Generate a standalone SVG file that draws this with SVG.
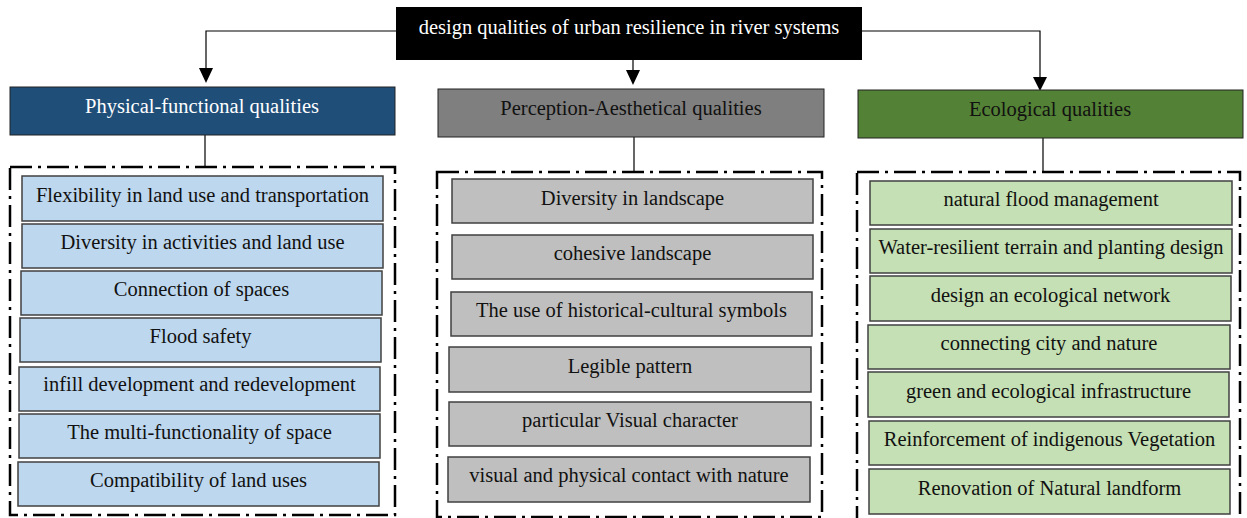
<svg xmlns="http://www.w3.org/2000/svg" width="1247" height="518" viewBox="0 0 1247 518">
<defs>
<style>
text{font-family:"Liberation Serif","Times New Roman",serif;font-size:20.5px;text-anchor:middle;fill:#111}
.cat{stroke:#222;stroke-width:1}
.box{stroke:#404040;stroke-width:1.5}
.pf .box{fill:#BDD7EE}
.pa .box{fill:#BFBFBF}
.ec .box{fill:#C5E0B4}
.frame{fill:none;stroke:#000;stroke-width:2.5;stroke-dasharray:22 6 3 6}
.conn{fill:none;stroke:#000;stroke-width:1.2}
.head{fill:#000}
</style>
</defs>
<rect width="1247" height="518" fill="#fff"/>

<g id="connectors">
<polyline class="conn" points="396,31 206,31 206,70"/>
<polygon class="head" points="199,68 213,68 206,83"/>
<line class="conn" x1="633" y1="60" x2="633" y2="72"/>
<polygon class="head" points="626,70 640,70 633,85"/>
<polyline class="conn" points="862,31 1040,31 1040,79"/>
<polygon class="head" points="1033,77 1047,77 1040,91"/>
<line class="conn" x1="205" y1="135" x2="205" y2="167"/>
<line class="conn" x1="634" y1="137" x2="634" y2="172"/>
<line class="conn" x1="1043" y1="138" x2="1043" y2="172"/>
</g>

<g id="root">
<rect x="396" y="7" width="466" height="53" fill="#000"/>
<text x="629" y="34" style="fill:#fff">design qualities of urban resilience in river systems</text>
</g>

<g id="cat-physical">
<rect class="cat" x="10" y="87" width="385" height="48" fill="#1F4E79"/>
<text x="202" y="113" style="fill:#fff">Physical-functional qualities</text>
</g>
<g id="cat-perception">
<rect class="cat" x="438" y="89" width="386" height="48" fill="#7F7F7F"/>
<text x="631" y="115">Perception-Aesthetical qualities</text>
</g>
<g id="cat-ecological">
<rect class="cat" x="858" y="90" width="385" height="48" fill="#538135"/>
<text x="1050" y="116">Ecological qualities</text>
</g>

<g id="frame-physical"><rect class="frame" x="10" y="167" width="385" height="348"/></g>
<g id="frame-perception"><rect class="frame" x="437" y="172" width="385" height="345"/></g>
<g id="frame-ecological"><rect class="frame" x="857" y="172" width="383" height="350"/></g>

<g class="pf">
<g id="pf1"><rect class="box" x="22" y="176" width="361" height="45"/><text x="202.5" y="202">Flexibility in land use and transportation</text></g>
<g id="pf2"><rect class="box" x="22" y="224" width="361" height="44"/><text x="202.5" y="249">Diversity in activities and land use</text></g>
<g id="pf3"><rect class="box" x="21" y="271" width="361" height="44"/><text x="201.5" y="296">Connection of spaces</text></g>
<g id="pf4"><rect class="box" x="20" y="318" width="361" height="44"/><text x="200.5" y="343">Flood safety</text></g>
<g id="pf5"><rect class="box" x="19" y="367" width="361" height="44"/><text x="199.5" y="391">infill development and redevelopment</text></g>
<g id="pf6"><rect class="box" x="19" y="414" width="361" height="44"/><text x="199.5" y="439">The multi-functionality of space</text></g>
<g id="pf7"><rect class="box" x="18" y="462" width="361" height="44"/><text x="198.5" y="487">Compatibility of land uses</text></g>
</g>

<g class="pa">
<g id="pa1"><rect class="box" x="452" y="179" width="361" height="44"/><text x="632.5" y="205">Diversity in landscape</text></g>
<g id="pa2"><rect class="box" x="452" y="235" width="361" height="44"/><text x="632.5" y="260">cohesive landscape</text></g>
<g id="pa3"><rect class="box" x="451" y="292" width="361" height="44"/><text x="631.5" y="317">The use of historical-cultural symbols</text></g>
<g id="pa4"><rect class="box" x="449" y="347" width="362" height="45"/><text x="630" y="373">Legible pattern</text></g>
<g id="pa5"><rect class="box" x="449" y="402" width="362" height="44"/><text x="630" y="427">particular Visual character</text></g>
<g id="pa6"><rect class="box" x="448" y="457" width="362" height="45"/><text x="629" y="482">visual and physical contact with nature</text></g>
</g>

<g class="ec">
<g id="ec1"><rect class="box" x="870" y="181" width="362" height="44"/><text x="1051" y="206">natural flood management</text></g>
<g id="ec2"><rect class="box" x="870" y="229" width="362" height="44"/><text x="1051" y="254">Water-resilient terrain and planting design</text></g>
<g id="ec3"><rect class="box" x="870" y="276" width="361" height="45"/><text x="1050.5" y="302">design an ecological network</text></g>
<g id="ec4"><rect class="box" x="868" y="325" width="362" height="44"/><text x="1049" y="350">connecting city and nature</text></g>
<g id="ec5"><rect class="box" x="868" y="372" width="361" height="45"/><text x="1048.5" y="398">green and ecological infrastructure</text></g>
<g id="ec6"><rect class="box" x="869" y="421" width="361" height="44"/><text x="1049.5" y="446">Reinforcement of indigenous Vegetation</text></g>
<g id="ec7"><rect class="box" x="869" y="469" width="361" height="45"/><text x="1049.5" y="495">Renovation of Natural landform</text></g>
</g>
</svg>
